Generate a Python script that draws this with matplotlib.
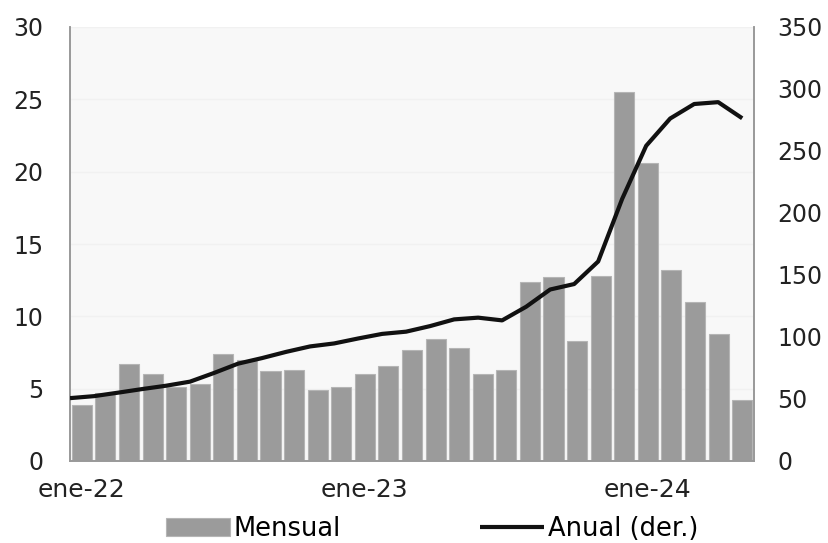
import numpy as np
import matplotlib
matplotlib.use("Agg")
import matplotlib.pyplot as plt

plt.rcParams['font.family'] = ['DejaVu Sans']

# Inflación mensual y anual, ene-22 a may-24
meses = ['ene-22', 'feb-22', 'mar-22', 'abr-22', 'may-22', 'jun-22',
         'jul-22', 'ago-22', 'sep-22', 'oct-22', 'nov-22', 'dic-22',
         'ene-23', 'feb-23', 'mar-23', 'abr-23', 'may-23', 'jun-23',
         'jul-23', 'ago-23', 'sep-23', 'oct-23', 'nov-23', 'dic-23',
         'ene-24', 'feb-24', 'mar-24', 'abr-24', 'may-24']
mensual = [3.9, 4.7, 6.7, 6.0, 5.1, 5.3, 7.4, 7.0, 6.2, 6.3, 4.9, 5.1,
           6.0, 6.6, 7.7, 8.4, 7.8, 6.0, 6.3, 12.4, 12.7, 8.3, 12.8, 25.5,
           20.6, 13.2, 11.0, 8.8, 4.2]
anual = [50.7, 52.3, 55.1, 58.0, 60.7, 64.0, 71.0, 78.5, 83.0, 88.0, 92.4, 94.8,
         98.8, 102.5, 104.3, 108.8, 114.2, 115.6, 113.4, 124.4, 138.3, 142.7, 160.9, 211.4,
         254.2, 276.2, 287.9, 289.4, 276.4]
etiquetas = ['ene-22', 'ene-23', 'ene-24']

n = len(meses)
x = np.arange(n)
# la serie anual va sobre su propio eje de categorías (de borde izquierdo a la última barra)
x_anual = np.linspace(-0.5, n - 1, n)

fig = plt.figure(figsize=(8.29, 5.43), dpi=100)
ax = fig.add_axes([70 / 829, 1 - 461 / 543, 684 / 829, 434 / 543])
ax.set_facecolor('#f8f8f8')

ax.bar(x, mensual, width=0.85, color='#9b9b9b', edgecolor='#b5b5b5',
       linewidth=0.8, label='Mensual', zorder=2)
ax.set_xlim(-0.5, n - 0.5)
ax.set_ylim(0, 30)
ax.set_yticks(range(0, 31, 5))
ax.grid(axis='y', color='#f1f1f1', linewidth=1, zorder=0)
ax.set_xticks([meses.index(e) for e in etiquetas])
ax.set_xticklabels(etiquetas)

ax2 = ax.twinx()
ax2.plot(x_anual, anual, color='#111111', linewidth=3, label='Anual (der.)',
         solid_capstyle='butt', zorder=3)
ax2.set_ylim(0, 350)
ax2.set_yticks(range(0, 351, 50))

for a in (ax, ax2):
    a.tick_params(length=0, labelsize=17, colors='#222222')
    a.spines['top'].set_visible(False)
    for s in ('left', 'right', 'bottom'):
        a.spines[s].set_color('#999999')
        a.spines[s].set_linewidth(1.2)
ax.tick_params(axis='y', pad=19)
ax2.tick_params(axis='y', pad=17)
ax.tick_params(axis='x', pad=12, labelsize=18)

h1, l1 = ax.get_legend_handles_labels()
h2, l2 = ax2.get_legend_handles_labels()
fig.legend(h1 + h2, l1 + l2, loc='center', bbox_to_anchor=(432 / 829, 1 - 529 / 543),
           ncol=2, frameon=False, fontsize=18.5, handlelength=2.5, handletextpad=0.15,
           columnspacing=5.4, handleheight=0.75)

fig.savefig('out.png', dpi=100, facecolor='white')
